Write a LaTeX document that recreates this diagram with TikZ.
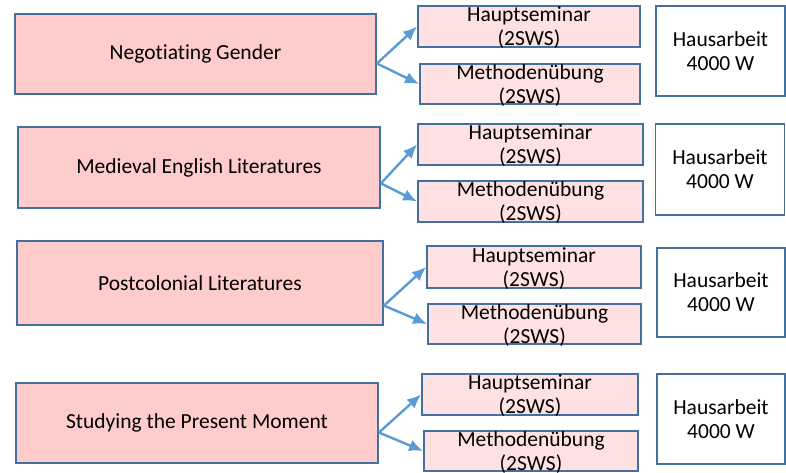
\documentclass[tikz,border=0pt]{standalone}
\usepackage{fontspec}
\setmainfont[Ligatures={NoCommon}]{Carlito}
\usetikzlibrary{arrows.meta}
\definecolor{rahmen}{HTML}{41719C}
\definecolor{modulrosa}{HTML}{FFCCCC}
\definecolor{kursrosa}{HTML}{FFE1E1}
\definecolor{pfeilblau}{HTML}{5B9BD5}
\begin{document}
\begin{tikzpicture}[x=1pt,y=-1pt,
    font=\fontsize{21.5}{24}\selectfont,
    modul/.style={draw=rahmen,line width=1.8pt,fill=modulrosa,inner sep=0pt},
    kurs/.style={draw=rahmen,line width=1.8pt,fill=kursrosa,inner sep=0pt,
      label={[align=center,yshift=-1.5pt]center:#1}},
    pruefung/.style={draw=rahmen,line width=1.8pt,fill=white,inner sep=0pt,align=center,
      minimum width=129pt,minimum height=90pt},
    pfeil/.style={draw=pfeilblau,line width=2.4pt,-{Latex[length=14pt,width=12pt]}}]
    \useasboundingbox (0,0) rectangle (786,473);

    % Negotiating Gender
    \node[modul,minimum width=361pt,minimum height=80pt] (ng) at (195.5,54) {Negotiating Gender};
    \node[kurs={Hauptseminar\\(2SWS)},minimum width=222pt,minimum height=41pt] (ngh) at (529,26.5) {};
    \node[kurs={Methodenübung\\(2SWS)},minimum width=220pt,minimum height=40pt] (ngm) at (530,84) {};
    \node[pruefung] (nga) at (720.5,51) {Hausarbeit\\4000 W};
    \draw[pfeil] (ng.-3) -- (ngh.west);
    \draw[pfeil] (ng.-3) -- (ngm.west);

    % Medieval English Literatures
    \node[modul,minimum width=362pt,minimum height=81pt] (mel) at (199,167.5) {Medieval English Literatures};
    \node[kurs={Hauptseminar\\(2SWS)},minimum width=225pt,minimum height=41pt] (melh) at (530.5,144.5) {};
    \node[kurs={Methodenübung\\(2SWS)},minimum width=225pt,minimum height=41pt] (melm) at (530.5,201.5) {};
    \node[pruefung,minimum height=91pt] (mela) at (720,169.5) {Hausarbeit\\4000 W};
    \draw[pfeil] (mel.-5) -- (melh.west);
    \draw[pfeil] (mel.-5) -- (melm.west);

    % Postcolonial Literatures
    \node[modul,minimum width=366pt,minimum height=84pt] (pl) at (200,283) {Postcolonial Literatures};
    \node[kurs={Hauptseminar\\(2SWS)},minimum width=214pt,minimum height=42pt] (plh) at (534,267) {};
    \node[kurs={Methodenübung\\(2SWS)},minimum width=213pt,minimum height=40pt] (plm) at (534.5,324) {};
    \node[pruefung,minimum width=128pt,minimum height=89pt] (pla) at (721,292.5) {Hausarbeit\\4000 W};
    \draw[pfeil] (pl.-7.5) -- (plh.west);
    \draw[pfeil] (pl.-7.5) -- (plm.west);

    % Studying the Present Moment
    \node[modul,minimum width=362pt,minimum height=80pt] (spm) at (197,423) {Studying the Present Moment};
    \node[kurs={Hauptseminar\\(2SWS)},minimum width=216pt,minimum height=41pt] (spmh) at (530,394.5) {};
    \node[kurs={Methodenübung\\(2SWS)},minimum width=214pt,minimum height=40pt] (spmm) at (531,451) {};
    \node[pruefung,minimum width=128pt] (spma) at (721,419) {Hausarbeit\\4000 W};
    \draw[pfeil] (spm.-3) -- (spmh.west);
    \draw[pfeil] (spm.-3) -- (spmm.west);
  \end{tikzpicture}
\end{document}
